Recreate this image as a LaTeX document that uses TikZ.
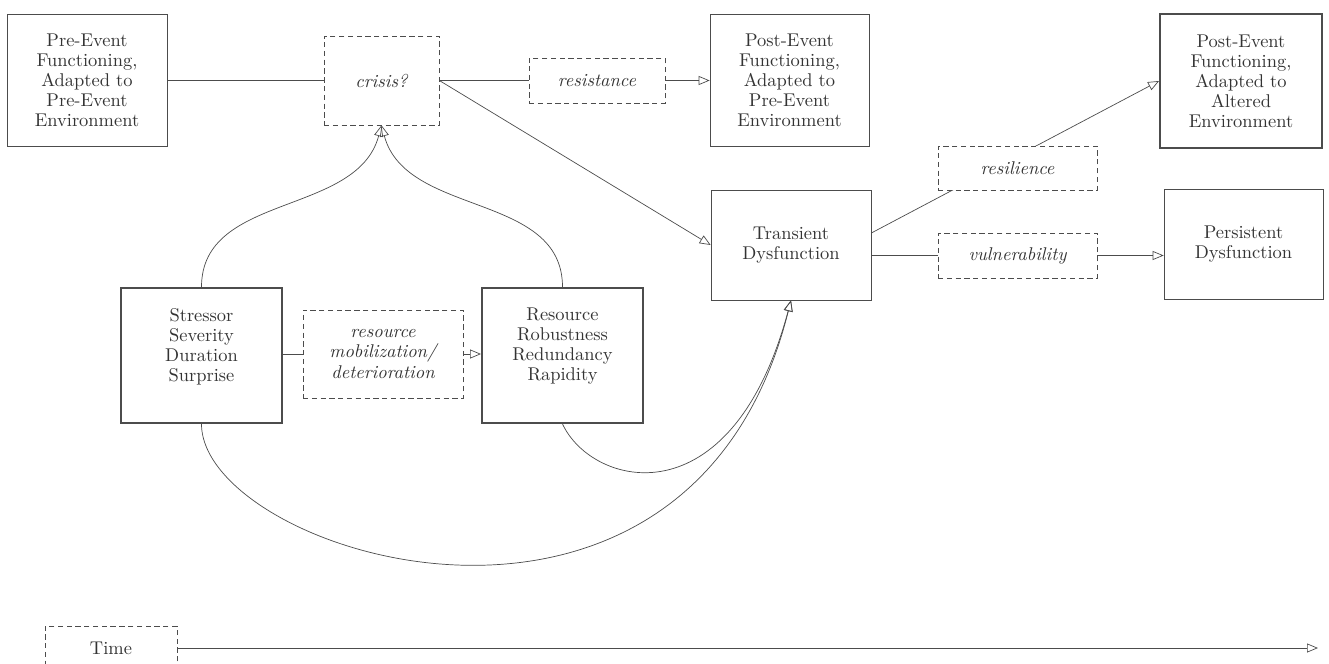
\documentclass[tikz,border=0pt]{standalone}
\usetikzlibrary{arrows.meta}
\usetikzlibrary{backgrounds}
\tikzset{
	box/.style={draw=black!70, fill=white, thin, align=center, inner sep=2pt, text=black!80, font=\fontsize{10.5}{11.4}\selectfont},
	thickbox/.style={box, line width=1.1pt},
	dbox/.style={box, densely dashed, font=\fontsize{10.5}{11.4}\selectfont\itshape},
	wh/.style 2 args={minimum width=#1cm, minimum height=#2cm},
	link/.style={draw=black!70, thin},
	arr/.style={link, -{Triangle[open, length=2.2mm, width=1.8mm]}}
}

\begin{document}
\begin{tikzpicture}

\useasboundingbox (0,0) rectangle (26.58,-13.28);
\clip (0,0) rectangle (26.58,-13.28);

\node[box, wh={3.2}{2.64}] (pre) at (1.74,-1.60) {Pre-Event\\Functioning,\\Adapted to\\Pre-Event\\Environment};
\node[dbox, wh={2.3}{1.78}] (crisis) at (7.63,-1.61) {crisis?};
\node[dbox, wh={2.72}{0.9}] (resist) at (11.94,-1.61) {resistance};
\node[box, wh={3.18}{2.64}] (postpre) at (15.79,-1.60) {Post-Event\\Functioning,\\Adapted to\\Pre-Event\\Environment};
\node[thickbox, wh={3.24}{2.68}] (postalt) at (24.82,-1.62) {Post-Event\\Functioning,\\Adapted to\\Altered\\Environment};

\node[box, wh={3.2}{2.2}] (transient) at (15.82,-4.90) {Transient\\Dysfunction};
\node[dbox, wh={3.18}{0.88}] (resil) at (20.35,-3.36) {resilience};
\node[dbox, wh={3.18}{0.9}] (vuln) at (20.35,-5.11) {vulnerability};
\node[box, wh={3.18}{2.2}] (persist) at (24.87,-4.88) {Persistent\\Dysfunction};

\node[thickbox, wh={3.22}{2.7}] (stressor) at (4.03,-7.11) {Stressor\\Severity\\Duration\\Surprise\\[1pt]\mbox{}};
\node[dbox, wh={3.2}{1.76}] (mobil) at (7.66,-7.08) {resource\\mobilization/\\deterioration};
\node[thickbox, wh={3.22}{2.7}] (resource) at (11.25,-7.11) {Resource\\Robustness\\Redundancy\\Rapidity\\[1pt]\mbox{}};

\node[box, densely dashed, wh={2.64}{0.88}] (time) at (2.22,-12.96) {Time};
\coordinate (tend) at (26.36,-12.94);

\draw[link] (pre.east) -- (pre.east -| crisis.west);
\draw[link] (crisis.east) -- (crisis.east -| resist.west);
\draw[arr] (resist.east) -- (resist.east -| postpre.west);
\draw[arr] (crisis.east) -- (transient.west);

\draw[arr] (stressor.north) to[out=90, in=-105] (crisis.south);
\draw[arr] (resource.north) to[out=90, in=-75] (crisis.south);
\draw[link] (stressor.east |- mobil) -- (mobil.west);
\draw[arr] (mobil.east) -- (mobil.east -| resource.west);
\draw[arr] (stressor.south) .. controls +(0,-2.6) and +(-104:8.4) .. (transient.south);
\draw[arr] (resource.south) .. controls +(-65:1.4) and +(-105:4.6) .. (transient.south);

\begin{pgfonlayer}{background}
\draw[arr] ([yshift=0.24cm]transient.east) -- (postalt.west);
\end{pgfonlayer}
\draw[link] (transient.east |- vuln) -- (vuln.west);
\draw[arr] (vuln.east) -- (vuln.east -| persist.west);

\draw[arr] (time.east) -- (time.east -| tend);
\end{tikzpicture}
\end{document}
